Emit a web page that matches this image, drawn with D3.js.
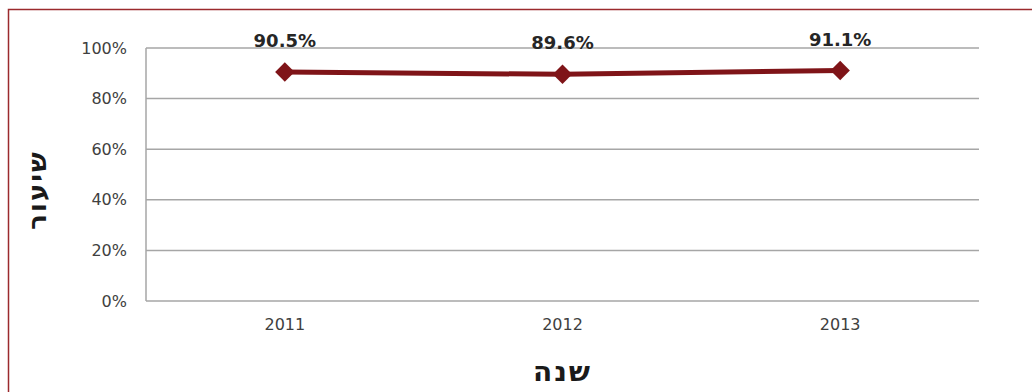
<!DOCTYPE html>
<html>
<head>
<meta charset="utf-8">
<script src="https://cdn.jsdelivr.net/npm/d3@7"></script>
<style>
  body { margin: 0; background: #fff; }
  text { font-family: "DejaVu Sans", sans-serif; }
</style>
</head>
<body>
<div id="chart-area"></div>
<script>
// data
var years = ["2011", "2012", "2013"];
var rates = [90.5, 89.6, 91.1];
var yTicks = [0, 20, 40, 60, 80, 100];

var W = 1032, H = 392;
var margin = {top: 48, right: 53, bottom: 91, left: 146},
    width = W - margin.left - margin.right,
    height = H - margin.top - margin.bottom;

var root = d3.select("#chart-area")
  .append("svg")
  .attr("width", W)
  .attr("height", H);

// dark red frame (top + left visible)
root.append("path")
  .attr("d", "M8.5," + H + " L8.5,9.5 L" + W + ",9.5")
  .attr("fill", "none")
  .attr("stroke", "#9b2a2d")
  .attr("stroke-width", 1.5);

var svg = root.append("g")
  .attr("transform", `translate(${margin.left}, ${margin.top})`);

var x = d3.scaleBand()
  .domain(years)
  .range([0, width]);

var y = d3.scaleLinear()
  .domain([0, 100])
  .range([height, 0]);

// gridlines
svg.append("g")
  .selectAll("line")
  .data(yTicks)
  .enter()
  .append("line")
  .attr("x1", 0)
  .attr("x2", width)
  .attr("y1", d => y(d))
  .attr("y2", d => y(d))
  .attr("stroke", "#a6a6a6")
  .attr("stroke-width", 1.5);

// y axis line
svg.append("line")
  .attr("x1", 0).attr("x2", 0)
  .attr("y1", 0).attr("y2", height)
  .attr("stroke", "#a6a6a6")
  .attr("stroke-width", 1.5);

var yAxis = d3.axisLeft(y)
  .tickValues(yTicks)
  .tickSize(0)
  .tickPadding(19)
  .tickFormat(d => d + "%");

var yAxisGroup = svg.append("g").call(yAxis);
yAxisGroup.select(".domain").remove();
yAxisGroup.selectAll("text")
  .attr("font-size", "16px")
  .attr("fill", "#404040");

var xAxis = d3.axisBottom(x).tickSize(0).tickPadding(18);
var xAxisGroup = svg.append("g")
  .attr("transform", `translate(0, ${height})`)
  .call(xAxis);
xAxisGroup.select(".domain").remove();
xAxisGroup.selectAll("text")
  .attr("font-size", "16px")
  .attr("fill", "#404040");

var pts = years.map((yr, i) => ({year: yr, v: rates[i]}));
var cx = d => x(d.year) + x.bandwidth() / 2;

svg.append("path")
  .datum(pts)
  .attr("d", d3.line().x(cx).y(d => y(d.v)))
  .attr("fill", "none")
  .attr("stroke", "#7f1418")
  .attr("stroke-width", 5);

svg.selectAll(".marker")
  .data(pts)
  .enter()
  .append("path")
  .attr("class", "marker")
  .attr("transform", d => `translate(${cx(d)}, ${y(d.v)})`)
  .attr("d", d3.symbol().type(d3.symbolDiamond2).size(240))
  .attr("fill", "#7f1418");

svg.selectAll(".label")
  .data(pts)
  .enter()
  .append("text")
  .attr("class", "label")
  .attr("x", cx)
  .attr("y", d => y(d.v) - 25)
  .attr("text-anchor", "middle")
  .attr("font-size", "18px")
  .attr("font-weight", "bold")
  .attr("fill", "#262626")
  .text(d => d.v.toFixed(1) + "%");

// axis titles
root.append("text")
  .attr("transform", "translate(46, 190) rotate(-90)")
  .attr("text-anchor", "middle")
  .attr("font-size", "26px")
  .attr("font-weight", "bold")
  .attr("letter-spacing", "2px")
  .attr("fill", "#1a1a1a")
  .text("שיעור");

root.append("text")
  .attr("x", margin.left + x("2012") + x.bandwidth() / 2)
  .attr("y", 381)
  .attr("text-anchor", "middle")
  .attr("font-size", "28px")
  .attr("font-weight", "bold")
  .attr("letter-spacing", "2px")
  .attr("fill", "#1a1a1a")
  .text("שנה");
</script>
</body>
</html>
